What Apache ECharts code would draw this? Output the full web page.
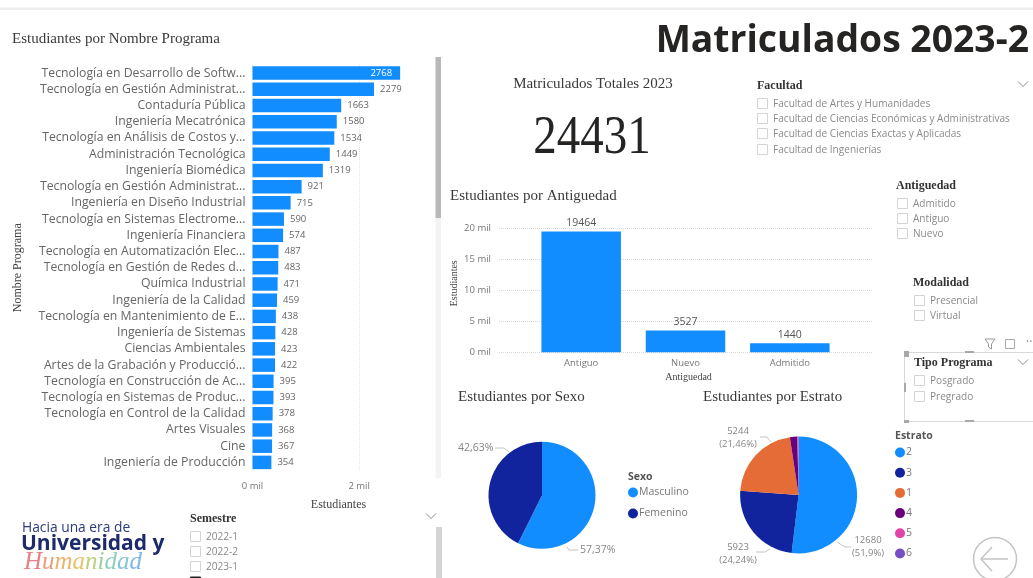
<!DOCTYPE html>
<html><head><meta charset="utf-8">
<style>html,body{margin:0;padding:0;background:#fff}#c{width:1033px;height:578px}</style>
<script src="https://cdn.jsdelivr.net/npm/echarts@6/dist/echarts.min.js"></script>
</head><body><div id="c"></div>
<script>
const programas=["Tecnología en Desarrollo de Softw...","Tecnología en Gestión Administrat...","Contaduría Pública","Ingeniería Mecatrónica","Tecnología en Análisis de Costos y...","Administración Tecnológica","Ingeniería Biomédica","Tecnología en Gestión Administrat...","Ingeniería en Diseño Industrial","Tecnología en Sistemas Electrome...","Ingeniería Financiera","Tecnología en Automatización Elec...","Tecnología en Gestión de Redes d...","Química Industrial","Ingeniería de la Calidad","Tecnología en Mantenimiento de E...","Ingeniería de Sistemas","Ciencias Ambientales","Artes de la Grabación y Producció...","Tecnología en Construcción de Ac...","Tecnología en Sistemas de Produc...","Tecnología en Control de la Calidad","Artes Visuales","Cine","Ingeniería de Producción"];
const estudiantesPrograma=[2768,2279,1663,1580,1534,1449,1319,921,715,590,574,487,483,471,459,438,428,423,422,395,393,378,368,367,354];
const antiguedad=["Antiguo","Nuevo","Admitido"];
const estudiantesAntiguedad=[19464,3527,1440];
const sexoNombres=["Masculino","Femenino"];
const sexoValores=[14016,10415];
const estratoNombres=["2","3","1","4","5","6"];
const estratoValores=[12680,5923,5244,500,60,24];
const facultades=["Facultad de Artes y Humanidades","Facultad de Ciencias Económicas y Administrativas","Facultad de Ciencias Exactas y Aplicadas","Facultad de Ingenierías"];
const antiguedadSlicer=["Admitido","Antiguo","Nuevo"];
const modalidades=["Presencial","Virtual"];
const tiposPrograma=["Posgrado","Pregrado"];
const semestres=["2022-1","2022-2","2023-1","2023-2"];

const BLUE='#118DFF',NAVY='#12239E',SERIF='"Liberation Serif",serif',SANS='"Open Sans",sans-serif';
const colors=[BLUE,NAVY,'#E66C37','#6B007B','#E044A7','#744EC2'];
const g=[];
const txt=(t,x,y,o={})=>g.push({type:'text',x,y:y+1,rotation:o.rot||0,scaleX:o.sx||1,scaleY:o.sy||1,z:o.z||5,style:{text:t,fill:o.c||'#444',font:`${o.w||'normal'} ${o.s||12}px ${o.f||SERIF}`,align:o.a||'left',verticalAlign:'middle'}});
const box=(x,y,w,h,o={})=>g.push({type:'rect',shape:{x,y,width:w,height:h},z:o.z||2,style:{fill:o.fill||'none',stroke:o.stroke||null,lineWidth:o.lw||1}});
const chev=(x,y)=>g.push({type:'polyline',shape:{points:[[x-5,y-2.5],[x,y+2.5],[x+5,y-2.5]]},style:{stroke:'#888',fill:'none',lineWidth:1}});
const leader=pts=>g.push({type:'polyline',shape:{points:pts},z:4,style:{stroke:'#c4c4c4',fill:'none',lineWidth:1}});
function slicer(title,tx,ty,items,bx,ys){
  txt(title,tx,ty,{w:'bold',s:12,c:'#333'});
  items.forEach((it,i)=>{box(bx+.5,ys[i]-4.5,10,10,{stroke:'#d4d4d4'});txt(it,bx+16,ys[i],{f:SANS,s:10.5,c:'#8a8a8a',sx:.96});});
}
// page chrome
box(0,7.5,1033,2.5,{fill:'#eeeeee'});
box(435.5,57,5.5,421,{fill:'#f3f3f3'});
box(435.5,57,5.5,161,{fill:'#b9b9b9'});
box(436,527,6,51,{fill:'#d4d4d4'});
// titles
txt('Matriculados 2023-2',1029,40.5,{f:SANS,w:'bold',s:37.3,c:'#252423',a:'right'});
txt('Estudiantes por Nombre Programa',12,38,{s:15,c:'#3a3a3a'});
txt('Matriculados Totales 2023',593,83,{s:15,c:'#3a3a3a',a:'center'});
txt('24431',592,138,{s:54,c:'#252423',a:'center',sx:.87});
txt('Estudiantes por Antiguedad',450,195,{s:15,c:'#3a3a3a'});
txt('Estudiantes por Sexo',458,396,{s:15,c:'#3a3a3a'});
txt('Estudiantes por Estrato',703,396,{s:15,c:'#3a3a3a'});
// slicers
slicer('Facultad',757,85,facultades,757,[103,118,133,149]);
slicer('Antiguedad',896,185,antiguedadSlicer,897,[203,218,233]);
slicer('Modalidad',913,282,modalidades,914,[300,315]);
slicer('Tipo Programa',914,362,tiposPrograma,914,[380,396]);
slicer('Semestre',190,518,semestres,190,[536,551,566,582]);
box(190.5,577,10,10,{fill:'#222',stroke:'#222',z:3});
chev(1023,84);chev(1023,362);chev(431,516);
box(904.5,352.5,135,69,{stroke:'#d8d8d8'});
[[904,351,5,6],[904,420,5,3],[904,383,2,9],[965,351,9,2],[965,420,9,2]].forEach(r=>box(r[0],r[1],r[2],r[3],{fill:'#a8a8a8'}));
// header icons of visual
g.push({type:'polyline',shape:{points:[[985,339],[995,339],[991.5,344],[991.5,349],[988.5,347],[988.5,344],[985,339]]},style:{stroke:'#999',fill:'none',lineWidth:1}});
box(1005.5,339.5,9,9,{stroke:'#aaa'});
txt('··',1026,342,{f:SANS,s:12,c:'#888'});
// legend titles
txt('Sexo',628,476,{f:SANS,w:'bold',s:10.5,c:'#555'});
txt('Estrato',895,435,{f:SANS,w:'bold',s:10.5,c:'#555'});
// pie leader lines
leader([[495,448],[504,448],[509,452]]);
leader([[567,547],[569,550],[578,550]]);
leader([[760,437],[767,437],[771,442]]);
leader([[837,542],[845,547],[851,547]]);
leader([[756,552],[765,552],[770,549]]);
// logo
txt('Hacia una era de',22,527.5,{f:SANS,s:13.8,c:'#2b3a7a'});
txt('Universidad y',21,543.5,{f:SANS,w:'bold',s:21,c:'#1d2a6b'});
const logoLetters='Humanidad'.split('');
const logoColors=['#e8808a','#ee9a7a','#efb26a','#e8c46a','#bcd07e','#9ccf9a','#8fd0bc','#85c4d8','#7db8e8'];
const logoFont='italic normal 25px "Liberation Serif",serif';
const meas=document.createElement('canvas').getContext('2d');meas.font=logoFont;
let lx=24;
logoLetters.forEach((ch,i)=>{
  g.push({type:'text',x:lx,y:562,z:6,style:{text:ch,font:logoFont,verticalAlign:'middle',fill:logoColors[i]}});
  lx+=meas.measureText(ch).width;
});
// back arrow
g.push({type:'circle',shape:{cx:995,cy:559,r:21.5},style:{stroke:'#c4c4c4',fill:'none',lineWidth:1.5}});
g.push({type:'polyline',shape:{points:[[1008,559],[982,559]]},style:{stroke:'#c4c4c4',fill:'none',lineWidth:1.5}});
g.push({type:'polyline',shape:{points:[[992,547],[981,559],[992,571]]},style:{stroke:'#c4c4c4',fill:'none',lineWidth:1.5}});

const axisText={color:'#777',fontFamily:SANS,fontSize:9.5};
const mil=v=>(v/1000)+' mil';
const pieLabel={color:'#858585',fontFamily:SANS,fontSize:10.5,lineHeight:13};
const fmt=d=>String(+d.percent.toFixed(2)).replace('.',',')+'%';
const sexoLabelPos=[{x:580,y:550},{x:458,y:448}];
const estratoLabelPos=[{x:868,y:547},{x:738,y:554},{x:738,y:438}];
const chart=echarts.init(document.getElementById('c'),null,{renderer:'canvas'});
chart.setOption({
 animation:false,
 textStyle:{fontFamily:SANS},
 graphic:g,
 grid:[
  {left:252.5,top:65,width:160,height:405.5},
  {left:499,top:228.3,width:374,height:124},
  {left:529,top:228.3,width:313,height:124}
 ],
 legend:[
  {data:sexoNombres,orient:'vertical',left:628,top:487,itemWidth:10,itemHeight:10,itemGap:10,icon:'circle',padding:0,textStyle:{color:'#777',fontFamily:SANS,fontSize:10.5,padding:[0,0,0,-4]}},
  {data:estratoNombres,orient:'vertical',left:895,top:447,itemWidth:10,itemHeight:10,itemGap:9.2,icon:'circle',padding:0,textStyle:{color:'#777',fontFamily:SANS,fontSize:10.5,padding:[0,0,0,-4]}}
 ],
 xAxis:[
  {gridIndex:0,type:'value',min:0,max:3000,interval:2000,axisLine:{show:false},axisTick:{show:false},
   splitLine:{show:true,showMaxLine:false,lineStyle:{type:'dotted',color:'#e6e6e6'}},
   axisLabel:{...axisText,formatter:mil,showMaxLabel:false,margin:11},
   name:'Estudiantes',nameLocation:'middle',nameGap:28,nameTextStyle:{fontFamily:SERIF,fontSize:12,color:'#444',padding:[0,0,0,12]}},
  {gridIndex:1,type:'category',data:antiguedad,show:false},
  {gridIndex:2,type:'category',data:antiguedad,axisLine:{show:false},axisTick:{show:false},
   axisLabel:{...axisText,margin:6},
   name:'Antiguedad',nameLocation:'middle',nameGap:20,nameTextStyle:{fontFamily:SERIF,fontSize:10,color:'#444',padding:[0,0,0,6]}}
 ],
 yAxis:[
  {gridIndex:0,type:'category',data:programas,inverse:true,axisLine:{show:false},axisTick:{show:false},
   axisLabel:{color:'#666',fontFamily:SANS,fontSize:12.25,margin:7,interval:0},
   name:'Nombre Programa',nameLocation:'middle',nameGap:229,nameTextStyle:{fontFamily:SERIF,fontSize:12,color:'#444'}},
  {gridIndex:1,type:'value',min:0,max:20000,interval:5000,axisLine:{show:false},axisTick:{show:false},
   splitLine:{show:true,lineStyle:{type:'dotted',color:'#d9d9d9'}},
   axisLabel:{...axisText,formatter:mil,margin:8},
   name:'Estudiantes',nameLocation:'middle',nameGap:40,nameTextStyle:{fontFamily:SERIF,fontSize:10,color:'#444',padding:[0,0,0,14]}},
  {gridIndex:2,type:'value',min:0,max:20000,interval:5000,show:false}
 ],
 series:[
  {type:'bar',xAxisIndex:0,yAxisIndex:0,barWidth:13.5,itemStyle:{color:BLUE},
   data:estudiantesPrograma.map((v,i)=>i===0?{value:v,label:{position:'insideRight',color:'#fff',offset:[-2,0]}}:v),
   label:{show:true,position:'right',distance:6,color:'#666',fontFamily:SANS,fontSize:9.5}},
  {type:'bar',xAxisIndex:2,yAxisIndex:2,barWidth:79.5,itemStyle:{color:BLUE},data:estudiantesAntiguedad,
   label:{show:true,position:'top',distance:3,color:'#555',fontFamily:SANS,fontSize:10.5}},
  {type:'pie',center:[542,495.3],radius:53.5,startAngle:90,clockwise:true,
   data:sexoNombres.map((n,i)=>({name:n,value:sexoValores[i],itemStyle:{color:colors[i]}})),
   label:{...pieLabel,formatter:fmt},labelLine:{show:false},
   labelLayout:p=>({...sexoLabelPos[p.dataIndex],align:'left',verticalAlign:'middle'})},
  {type:'pie',center:[798.6,495],radius:58.5,startAngle:90,clockwise:true,
   data:estratoNombres.map((n,i)=>({name:n,value:estratoValores[i],itemStyle:{color:colors[i]},label:{show:i<3}})),
   label:{...pieLabel,fontSize:9.5,formatter:d=>d.value+'\n('+fmt(d)+')'},labelLine:{show:false},
   labelLayout:p=>estratoLabelPos[p.dataIndex]?({...estratoLabelPos[p.dataIndex],align:'center',verticalAlign:'middle'}):{}}
 ]
});
</script></body></html>
